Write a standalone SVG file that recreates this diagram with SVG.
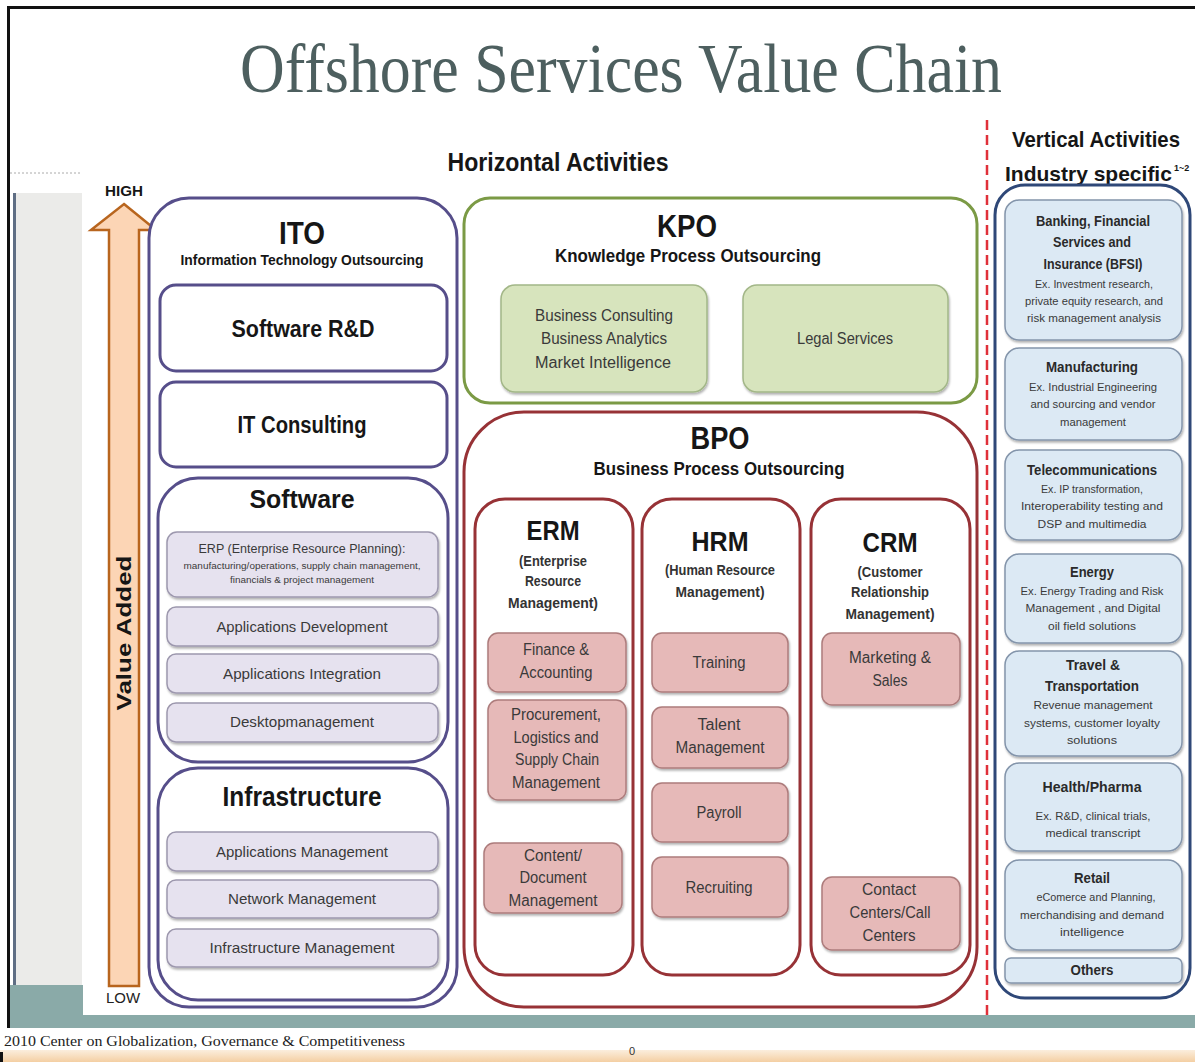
<svg xmlns="http://www.w3.org/2000/svg" width="1195" height="1062" viewBox="0 0 1195 1062">
  <defs>
    <style>
      .hd { font-family: "Liberation Sans", Arial, sans-serif; font-weight: bold; fill: #161616; text-anchor: middle; }
      .it { font-family: "Liberation Sans", Arial, sans-serif; fill: #3a3a3a; text-anchor: middle; }
      .vb { font-family: "Liberation Sans", Arial, sans-serif; font-weight: bold; fill: #2a2a2a; text-anchor: middle; font-size: 14px; }
      .vs { font-family: "Liberation Sans", Arial, sans-serif; fill: #3a3a3a; text-anchor: middle; font-size: 11px; }
      .ito-frame { fill: #ffffff; stroke: #564e8a; stroke-width: 3; }
      .ito-item { fill: #e6e2ef; stroke: #9d98ae; stroke-width: 1.5; filter: url(#shadow); }
      .kpo-frame { fill: #ffffff; stroke: #7b9a45; stroke-width: 3; }
      .kpo-item { fill: #d7e4bd; stroke: #a3b788; stroke-width: 1.5; filter: url(#shadow); }
      .bpo-frame { fill: #ffffff; stroke: #973236; stroke-width: 3; }
      .bpo-item { fill: #e6b9b8; stroke: #ad7c7c; stroke-width: 1.5; filter: url(#shadow); }
      .ver-frame { fill: #ffffff; stroke: #2f4878; stroke-width: 3; }
      .ver-item { fill: #dce9f4; stroke: #8495ab; stroke-width: 1.5; filter: url(#shadow); }
    </style>
    <filter id="shadow" x="-10%" y="-10%" width="120%" height="130%">
      <feDropShadow dx="1" dy="2" stdDeviation="1" flood-color="#000" flood-opacity="0.3"/>
    </filter>
    <linearGradient id="peach" x1="0" y1="0" x2="0" y2="1">
      <stop offset="0" stop-color="#fbeedd"/>
      <stop offset="1" stop-color="#f4cfa3"/>
    </linearGradient>
  </defs>

  <!-- page background and slide frame -->
  <rect x="0" y="0" width="1195" height="1062" fill="#ffffff"/>
  <rect x="7" y="6" width="1188" height="3" fill="#111"/>
  <rect x="7" y="6" width="3" height="1022" fill="#111"/>
  <line x1="10" y1="173" x2="82" y2="173" stroke="#aaaaaa" stroke-width="1" stroke-dasharray="2 2"/>
  <rect x="15" y="193" width="67" height="792" fill="#ebebe9"/>
  <rect x="13" y="193" width="3" height="792" fill="#5f6e84"/>
  <rect x="10" y="985" width="73" height="30" fill="#8aaaa8"/>
  <rect x="10" y="1015" width="1185" height="13" fill="#8aaaa8"/>
  <rect x="0" y="1050" width="1195" height="12" fill="url(#peach)"/>
  <rect x="0" y="1052" width="3" height="10" fill="#111"/>

  <!-- titles -->
  <text x="621" y="92" font-family="'Liberation Serif', 'Times New Roman', serif" font-size="70" fill="#4d5f5f" text-anchor="middle" textLength="762" lengthAdjust="spacingAndGlyphs">Offshore Services Value Chain</text>
  <text class="hd" x="558" y="171" font-size="26" textLength="221" lengthAdjust="spacingAndGlyphs">Horizontal Activities</text>
  <text class="hd" x="1096" y="147" font-size="22" textLength="168" lengthAdjust="spacingAndGlyphs">Vertical Activities</text>
  <text class="hd" x="1005" y="181" font-size="21" style="text-anchor:start">Industry specific<tspan font-size="9" dx="2" dy="-10">1~2</tspan></text>

  <!-- separator between horizontal and vertical activities -->
  <line x1="987" y1="120" x2="987" y2="1015" stroke="#e0303a" stroke-width="2.5" stroke-dasharray="10 5"/>

  <!-- value axis -->
  <g id="connectors">
    <g id="value-axis">
      <polygon points="124,204 156,230 139,230 139,986 109,986 109,230 91,230" fill="#fcd5b5" stroke="#b8651e" stroke-width="2.5" stroke-linejoin="miter"/>
      <text class="hd" x="124" y="196" font-size="14" fill="#333" textLength="38" lengthAdjust="spacingAndGlyphs">HIGH</text>
      <text class="it" x="123" y="1003" font-size="15" style="fill:#222" textLength="34" lengthAdjust="spacingAndGlyphs">LOW</text>
      <text class="hd" x="0" y="0" font-size="21" transform="translate(131 633) rotate(-90)" textLength="155" lengthAdjust="spacingAndGlyphs">Value Added</text>
    </g>
  </g>

  <!-- ITO column -->
  <g id="ito">
    <rect class="ito-frame" x="149" y="198" width="308" height="809" rx="40"/>
    <text class="hd" x="302" y="244" font-size="32" textLength="46" lengthAdjust="spacingAndGlyphs">ITO</text>
    <text class="hd" x="302" y="265" font-size="15" textLength="243" lengthAdjust="spacingAndGlyphs">Information Technology Outsourcing</text>
  </g>
  <g id="software-rd">
    <rect class="ito-frame" x="160" y="285" width="287" height="86" rx="16"/>
    <text class="hd" x="303" y="337" font-size="23" textLength="143" lengthAdjust="spacingAndGlyphs">Software R&amp;D</text>
  </g>
  <g id="it-consulting">
    <rect class="ito-frame" x="160" y="382" width="287" height="85" rx="16"/>
    <text class="hd" x="302" y="433" font-size="23" textLength="129" lengthAdjust="spacingAndGlyphs">IT Consulting</text>
  </g>
  <g id="software">
    <rect class="ito-frame" x="158" y="478" width="290" height="284" rx="40"/>
    <text class="hd" x="302" y="508" font-size="26" textLength="105" lengthAdjust="spacingAndGlyphs">Software</text>
    <rect class="ito-item" x="167" y="532" width="271" height="65" rx="10"/>
    <text class="it" x="302" y="553" font-size="13" textLength="207" lengthAdjust="spacingAndGlyphs">ERP (Enterprise Resource Planning):</text>
    <text class="it" x="302" y="569" font-size="8.5" textLength="237" lengthAdjust="spacingAndGlyphs">manufacturing/operations, supply chain management,</text>
    <text class="it" x="302" y="583" font-size="8.5" textLength="144" lengthAdjust="spacingAndGlyphs">financials &amp; project management</text>
    <rect class="ito-item" x="167" y="607" width="271" height="39" rx="9"/>
    <text class="it" x="302" y="632" font-size="15" textLength="171" lengthAdjust="spacingAndGlyphs">Applications Development</text>
    <rect class="ito-item" x="167" y="654" width="271" height="39" rx="9"/>
    <text class="it" x="302" y="679" font-size="15" textLength="158" lengthAdjust="spacingAndGlyphs">Applications Integration</text>
    <rect class="ito-item" x="167" y="703" width="271" height="39" rx="9"/>
    <text class="it" x="302" y="727" font-size="15" textLength="144" lengthAdjust="spacingAndGlyphs">Desktopmanagement</text>
  </g>
  <g id="infrastructure">
    <rect class="ito-frame" x="158" y="768" width="290" height="232" rx="40"/>
    <text class="hd" x="302" y="806" font-size="27" textLength="159" lengthAdjust="spacingAndGlyphs">Infrastructure</text>
    <rect class="ito-item" x="167" y="832" width="271" height="39" rx="9"/>
    <text class="it" x="302" y="857" font-size="15" textLength="172" lengthAdjust="spacingAndGlyphs">Applications Management</text>
    <rect class="ito-item" x="167" y="880" width="271" height="38" rx="9"/>
    <text class="it" x="302" y="904" font-size="15" textLength="148" lengthAdjust="spacingAndGlyphs">Network Management</text>
    <rect class="ito-item" x="167" y="929" width="271" height="38" rx="9"/>
    <text class="it" x="302" y="953" font-size="15" textLength="185" lengthAdjust="spacingAndGlyphs">Infrastructure Management</text>
  </g>

  <!-- KPO -->
  <g id="kpo">
    <rect class="kpo-frame" x="464" y="198" width="513" height="205" rx="26"/>
    <text class="hd" x="687" y="237" font-size="31" textLength="60" lengthAdjust="spacingAndGlyphs">KPO</text>
    <text class="hd" x="688" y="262" font-size="18" textLength="266" lengthAdjust="spacingAndGlyphs">Knowledge Process Outsourcing</text>
  </g>
  <g id="kpo-business">
    <rect class="kpo-item" x="501" y="285" width="206" height="107" rx="14"/>
    <text class="it" x="604" y="321" font-size="16" textLength="138" lengthAdjust="spacingAndGlyphs">Business Consulting</text>
    <text class="it" x="604" y="344" font-size="16" textLength="126" lengthAdjust="spacingAndGlyphs">Business Analytics</text>
    <text class="it" x="603" y="368" font-size="16" textLength="136" lengthAdjust="spacingAndGlyphs">Market Intelligence</text>
  </g>
  <g id="kpo-legal">
    <rect class="kpo-item" x="743" y="285" width="205" height="107" rx="14"/>
    <text class="it" x="845" y="344" font-size="16" textLength="96" lengthAdjust="spacingAndGlyphs">Legal Services</text>
  </g>

  <!-- BPO -->
  <g id="bpo">
    <rect class="bpo-frame" x="464" y="412" width="513" height="595" rx="60"/>
    <text class="hd" x="720" y="449" font-size="31" textLength="59" lengthAdjust="spacingAndGlyphs">BPO</text>
    <text class="hd" x="719" y="475" font-size="18" textLength="251" lengthAdjust="spacingAndGlyphs">Business Process Outsourcing</text>
  </g>
  <g id="erm">
    <rect class="bpo-frame" x="475" y="499" width="158" height="476" rx="30"/>
    <text class="hd" x="553" y="540" font-size="28" textLength="53" lengthAdjust="spacingAndGlyphs">ERM</text>
    <text class="hd" x="553" y="566" font-size="14" style="fill:#333" textLength="68" lengthAdjust="spacingAndGlyphs">(Enterprise</text>
    <text class="hd" x="553" y="586" font-size="14" style="fill:#333" textLength="56" lengthAdjust="spacingAndGlyphs">Resource</text>
    <text class="hd" x="553" y="608" font-size="14" style="fill:#333" textLength="90" lengthAdjust="spacingAndGlyphs">Management)</text>
    <rect class="bpo-item" x="488" y="633" width="138" height="59" rx="10"/>
    <text class="it" x="556" y="655" font-size="16" textLength="66" lengthAdjust="spacingAndGlyphs">Finance &amp;</text>
    <text class="it" x="556" y="678" font-size="16" textLength="73" lengthAdjust="spacingAndGlyphs">Accounting</text>
    <rect class="bpo-item" x="488" y="700" width="138" height="100" rx="10"/>
    <text class="it" x="556" y="720" font-size="16" textLength="90" lengthAdjust="spacingAndGlyphs">Procurement,</text>
    <text class="it" x="556" y="743" font-size="16" textLength="85" lengthAdjust="spacingAndGlyphs">Logistics and</text>
    <text class="it" x="557" y="765" font-size="16" textLength="84" lengthAdjust="spacingAndGlyphs">Supply Chain</text>
    <text class="it" x="556" y="788" font-size="16" textLength="88" lengthAdjust="spacingAndGlyphs">Management</text>
    <rect class="bpo-item" x="484" y="843" width="138" height="70" rx="10"/>
    <text class="it" x="553" y="861" font-size="16" textLength="58" lengthAdjust="spacingAndGlyphs">Content/</text>
    <text class="it" x="553" y="883" font-size="16" textLength="67" lengthAdjust="spacingAndGlyphs">Document</text>
    <text class="it" x="553" y="906" font-size="16" textLength="89" lengthAdjust="spacingAndGlyphs">Management</text>
  </g>
  <g id="hrm">
    <rect class="bpo-frame" x="642" y="499" width="158" height="476" rx="30"/>
    <text class="hd" x="720" y="551" font-size="28" textLength="57" lengthAdjust="spacingAndGlyphs">HRM</text>
    <text class="hd" x="720" y="575" font-size="14" style="fill:#333" textLength="110" lengthAdjust="spacingAndGlyphs">(Human Resource</text>
    <text class="hd" x="720" y="597" font-size="14" style="fill:#333" textLength="89" lengthAdjust="spacingAndGlyphs">Management)</text>
    <rect class="bpo-item" x="652" y="633" width="136" height="59" rx="10"/>
    <text class="it" x="719" y="668" font-size="16" textLength="53" lengthAdjust="spacingAndGlyphs">Training</text>
    <rect class="bpo-item" x="652" y="707" width="136" height="61" rx="10"/>
    <text class="it" x="719" y="730" font-size="16" textLength="43" lengthAdjust="spacingAndGlyphs">Talent</text>
    <text class="it" x="720" y="753" font-size="16" textLength="89" lengthAdjust="spacingAndGlyphs">Management</text>
    <rect class="bpo-item" x="652" y="783" width="136" height="59" rx="10"/>
    <text class="it" x="719" y="818" font-size="16" textLength="45" lengthAdjust="spacingAndGlyphs">Payroll</text>
    <rect class="bpo-item" x="652" y="857" width="136" height="60" rx="10"/>
    <text class="it" x="719" y="893" font-size="16" textLength="67" lengthAdjust="spacingAndGlyphs">Recruiting</text>
  </g>
  <g id="crm">
    <rect class="bpo-frame" x="811" y="499" width="159" height="476" rx="30"/>
    <text class="hd" x="890" y="552" font-size="28" textLength="55" lengthAdjust="spacingAndGlyphs">CRM</text>
    <text class="hd" x="890" y="577" font-size="14" style="fill:#333" textLength="65" lengthAdjust="spacingAndGlyphs">(Customer</text>
    <text class="hd" x="890" y="597" font-size="14" style="fill:#333" textLength="78" lengthAdjust="spacingAndGlyphs">Relationship</text>
    <text class="hd" x="890" y="619" font-size="14" style="fill:#333" textLength="89" lengthAdjust="spacingAndGlyphs">Management)</text>
    <rect class="bpo-item" x="822" y="633" width="138" height="72" rx="10"/>
    <text class="it" x="890" y="663" font-size="16" textLength="82" lengthAdjust="spacingAndGlyphs">Marketing &amp;</text>
    <text class="it" x="890" y="686" font-size="16" textLength="35" lengthAdjust="spacingAndGlyphs">Sales</text>
    <rect class="bpo-item" x="822" y="877" width="138" height="73" rx="10"/>
    <text class="it" x="889" y="895" font-size="16" textLength="54" lengthAdjust="spacingAndGlyphs">Contact</text>
    <text class="it" x="890" y="918" font-size="16" textLength="81" lengthAdjust="spacingAndGlyphs">Centers/Call</text>
    <text class="it" x="889" y="941" font-size="16" textLength="53" lengthAdjust="spacingAndGlyphs">Centers</text>
  </g>

  <!-- Vertical activities -->
  <g id="verticals">
    <rect class="ver-frame" x="995" y="185" width="195" height="813" rx="30"/>
  </g>
  <g id="bfsi">
    <rect class="ver-item" x="1005" y="200" width="177" height="140" rx="14"/>
    <text class="vb" x="1093" y="226" textLength="114" lengthAdjust="spacingAndGlyphs">Banking, Financial</text>
    <text class="vb" x="1092" y="247" textLength="78" lengthAdjust="spacingAndGlyphs">Services and</text>
    <text class="vb" x="1093" y="269" textLength="99" lengthAdjust="spacingAndGlyphs">Insurance (BFSI)</text>
    <text class="vs" x="1094" y="288" textLength="118" lengthAdjust="spacingAndGlyphs">Ex. Investment research,</text>
    <text class="vs" x="1094" y="305" textLength="138" lengthAdjust="spacingAndGlyphs">private equity research, and</text>
    <text class="vs" x="1094" y="322" textLength="134" lengthAdjust="spacingAndGlyphs">risk management analysis</text>
  </g>
  <g id="manufacturing">
    <rect class="ver-item" x="1005" y="348" width="177" height="92" rx="14"/>
    <text class="vb" x="1092" y="372" textLength="92" lengthAdjust="spacingAndGlyphs">Manufacturing</text>
    <text class="vs" x="1093" y="391" textLength="128" lengthAdjust="spacingAndGlyphs">Ex. Industrial Engineering</text>
    <text class="vs" x="1093" y="408" textLength="125" lengthAdjust="spacingAndGlyphs">and sourcing and vendor</text>
    <text class="vs" x="1093" y="426" textLength="66" lengthAdjust="spacingAndGlyphs">management</text>
  </g>
  <g id="telecom">
    <rect class="ver-item" x="1005" y="450" width="177" height="90" rx="14"/>
    <text class="vb" x="1092" y="475" textLength="130" lengthAdjust="spacingAndGlyphs">Telecommunications</text>
    <text class="vs" x="1092" y="493" textLength="102" lengthAdjust="spacingAndGlyphs">Ex. IP transformation,</text>
    <text class="vs" x="1092" y="510" textLength="142" lengthAdjust="spacingAndGlyphs">Interoperability testing and</text>
    <text class="vs" x="1092" y="528" textLength="109" lengthAdjust="spacingAndGlyphs">DSP and multimedia</text>
  </g>
  <g id="energy">
    <rect class="ver-item" x="1005" y="554" width="177" height="89" rx="14"/>
    <text class="vb" x="1092" y="577" textLength="44" lengthAdjust="spacingAndGlyphs">Energy</text>
    <text class="vs" x="1092" y="595" textLength="143" lengthAdjust="spacingAndGlyphs">Ex. Energy Trading and Risk</text>
    <text class="vs" x="1093" y="612" textLength="135" lengthAdjust="spacingAndGlyphs">Management , and Digital</text>
    <text class="vs" x="1092" y="630" textLength="88" lengthAdjust="spacingAndGlyphs">oil field solutions</text>
  </g>
  <g id="travel">
    <rect class="ver-item" x="1005" y="651" width="177" height="105" rx="14"/>
    <text class="vb" x="1093" y="670" textLength="54" lengthAdjust="spacingAndGlyphs">Travel &amp;</text>
    <text class="vb" x="1092" y="691" textLength="94" lengthAdjust="spacingAndGlyphs">Transportation</text>
    <text class="vs" x="1093" y="709" textLength="119" lengthAdjust="spacingAndGlyphs">Revenue management</text>
    <text class="vs" x="1092" y="727" textLength="136" lengthAdjust="spacingAndGlyphs">systems, customer loyalty</text>
    <text class="vs" x="1092" y="744" textLength="50" lengthAdjust="spacingAndGlyphs">solutions</text>
  </g>
  <g id="health">
    <rect class="ver-item" x="1005" y="763" width="177" height="88" rx="14"/>
    <text class="vb" x="1092" y="792" textLength="99" lengthAdjust="spacingAndGlyphs">Health/Pharma</text>
    <text class="vs" x="1093" y="820" textLength="115" lengthAdjust="spacingAndGlyphs">Ex. R&amp;D, clinical trials,</text>
    <text class="vs" x="1093" y="837" textLength="95" lengthAdjust="spacingAndGlyphs">medical transcript</text>
  </g>
  <g id="retail">
    <rect class="ver-item" x="1005" y="860" width="177" height="90" rx="14"/>
    <text class="vb" x="1092" y="883" textLength="36" lengthAdjust="spacingAndGlyphs">Retail</text>
    <text class="vs" x="1096" y="901" textLength="119" lengthAdjust="spacingAndGlyphs">eComerce and Planning,</text>
    <text class="vs" x="1092" y="919" textLength="144" lengthAdjust="spacingAndGlyphs">merchandising and demand</text>
    <text class="vs" x="1092" y="936" textLength="64" lengthAdjust="spacingAndGlyphs">intelligence</text>
  </g>
  <g id="others">
    <rect class="ver-item" x="1005" y="958" width="177" height="25" rx="6"/>
    <text class="vb" x="1092" y="975" textLength="43" lengthAdjust="spacingAndGlyphs">Others</text>
  </g>

  <!-- footer -->
  <text x="4" y="1046" font-family="'Liberation Serif', 'Times New Roman', serif" font-size="14" fill="#222" textLength="401" lengthAdjust="spacingAndGlyphs">2010 Center on Globalization, Governance &amp; Competitiveness</text>
  <text x="632" y="1055" font-family="'Liberation Sans', Arial, sans-serif" font-size="11" fill="#333" text-anchor="middle">0</text>
</svg>
